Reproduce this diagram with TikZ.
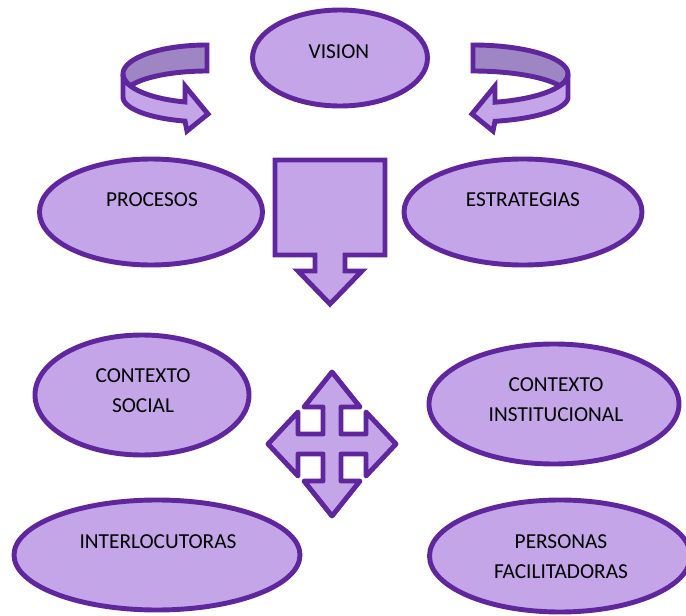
\documentclass[tikz,border=0pt]{standalone}
\usepackage{fontspec}
\setmainfont{Carlito}
\usetikzlibrary{shapes.geometric}
\definecolor{lila}{RGB}{196,165,232}
\definecolor{lilaborde}{RGB}{96,38,158}
\definecolor{lilaosc}{RGB}{158,134,196}
% flecha en U, #1 = radio horizontal
\newcommand{\vuelta}[1]{%
	\pgfmathsetmacro{\fin}{180-acos(22/#1)}
	\draw[flecha, fill=lilaosc] plot[domain=270:156, samples=40] ({207+#1*cos(\x)},{74+29*sin(\x)})
		-- plot[domain=204:270, samples=30] ({207+#1*cos(\x)},{96+25*sin(\x)}) -- cycle;
	\draw[flecha] plot[domain=180:\fin, samples=30] ({207+#1*cos(\x)},{74+29*sin(\x)})
		-- (185,86) -- (208,114) -- (187,131)
		-- plot[domain=\fin:180, samples=30] ({207+#1*cos(\x)},{97+25*sin(\x)}) -- cycle;
}
\begin{document}
\begin{tikzpicture}[x=0.03cm, y=-0.03cm, line join=miter, font={\fontsize{18.2}{25.5}\selectfont}]
			\tikzset{elipse/.style={ellipse, draw=lilaborde, fill=lila, line width=4.2pt, inner sep=0pt},
				flecha/.style={draw=lilaborde, fill=lila, line width=4.2pt},
				texto/.style={align=center, inner sep=0pt}}
			\useasboundingbox (0,0) rectangle (686,616);
			% elipses
			\node[elipse, minimum width=5.25cm, minimum height=2.88cm] (vision) at (340,58) {};
			\node[elipse, minimum width=6.69cm, minimum height=3.18cm] (procesos) at (151,212) {};
			\node[elipse, minimum width=7.14cm, minimum height=3.18cm] (estrategias) at (523,212) {};
			\node[elipse, minimum width=6.42cm, minimum height=3.6cm] (social) at (142,395) {};
			\node[elipse, minimum width=7.5cm, minimum height=3.6cm] (institucional) at (554,404) {};
			\node[elipse, minimum width=8.58cm, minimum height=3.3cm] (interlocutoras) at (157,555) {};
			\node[elipse, minimum width=7.83cm, minimum height=3.36cm] (facilitadoras) at (560,556) {};
			\node[texto] (vision-t) at (339,52) {VISION};
			\node[texto] (procesos-t) at (152,200) {PROCESOS};
			\node[texto] (estrategias-t) at (523,200) {ESTRATEGIAS};
			\node[texto] (social-t) at (143,391) {CONTEXTO\\SOCIAL};
			\node[texto] (institucional-t) at (556,400) {CONTEXTO\\INSTITUCIONAL};
			\node[texto] (interlocutoras-t) at (158,542) {INTERLOCUTORAS};
			\node[texto] (facilitadoras-t) at (561,557) {PERSONAS\\FACILITADORAS};
			% flechas curvas
			\vuelta{84}
			\begin{scope}[shift={(680,0)}, xscale=-1]
				\vuelta{95}
			\end{scope}
			% flecha hacia abajo
			\draw[flecha] (275,160) -- (385,160) -- (385,255) -- (345,255) -- (345,271) -- (362,271)
				-- (330,304) -- (298,271) -- (315,271) -- (315,255) -- (275,255) -- cycle;
			% flecha de cuatro puntas
			\begin{scope}[shift={(332,444)}]
				\draw[flecha, line join=round] (0,-72) -- (28,-37) -- (9,-37) -- (9,-10) -- (34,-10) -- (34,-32)
					-- (64,0) -- (34,32) -- (34,10) -- (9,10) -- (9,37) -- (28,37) -- (0,72) -- (-28,37)
					-- (-9,37) -- (-9,10) -- (-34,10) -- (-34,32) -- (-64,0) -- (-34,-32) -- (-34,-10)
					-- (-9,-10) -- (-9,-37) -- (-28,-37) -- cycle;
			\end{scope}
		\end{tikzpicture}
\end{document}
